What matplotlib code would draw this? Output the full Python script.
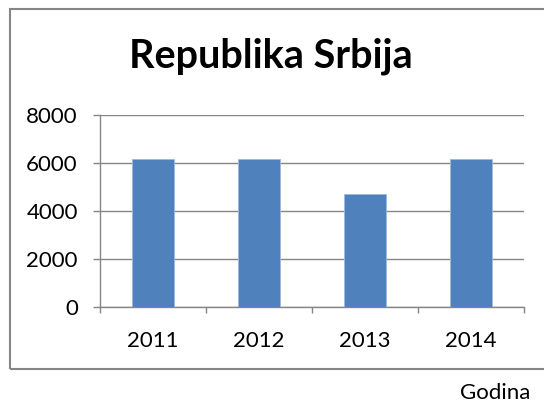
import matplotlib.pyplot as plt
from matplotlib.patches import Rectangle

years = ['2011', '2012', '2013', '2014']
values = [6180, 6180, 4720, 6170]
yticks = [0, 2000, 4000, 6000, 8000]

plt.rcParams['font.family'] = ['Lato', 'DejaVu Sans']

W, H = 544, 413
fig = plt.figure(figsize=(W / 100, H / 100), dpi=100)

# outer chart frame (right edge runs off the picture)
fig.patches.append(Rectangle((10 / W, 1 - 369 / H), 600 / W, (369 - 9) / H,
                             transform=fig.transFigure, fill=False,
                             edgecolor='#868686', linewidth=1.5))

ax = fig.add_axes([100 / W, 1 - 307 / H, (524 - 100) / W, (307 - 115) / H])
x = range(len(years))
ax.bar(x, values, width=0.4, color='#4F81BD', edgecolor='#9DB9DE', linewidth=0.6, zorder=3)

ax.set_xlim(-0.5, 3.5)
ax.set_ylim(0, 8000)
ax.set_yticks(yticks)
ax.set_yticklabels([str(v) for v in yticks], fontsize=16)
ax.set_xticks(list(x))
ax.set_xticklabels(years, fontsize=16)
ax.tick_params(axis='x', length=0, pad=17)
ax.tick_params(axis='y', length=5, color='#868686', width=1, pad=11)
# category boundary ticks
ax.set_xticks([-0.5, 0.5, 1.5, 2.5, 3.5], minor=True)
ax.tick_params(axis='x', which='minor', length=4, color='#868686', width=1)

ax.grid(axis='y', color='#868686', linewidth=1, zorder=0)
for s in ['top', 'right']:
    ax.spines[s].set_visible(False)
for s in ['left', 'bottom']:
    ax.spines[s].set_color('#868686')
    ax.spines[s].set_linewidth(1)

fig.text(271 / W, 1 - 56 / H, 'Republika Srbija', ha='center', va='center',
         fontsize=28.5, fontweight='bold')
fig.text(530 / W, 1 - 393 / H, 'Godina', ha='right', va='center', fontsize=16)

fig.savefig('out.png', dpi=100)
